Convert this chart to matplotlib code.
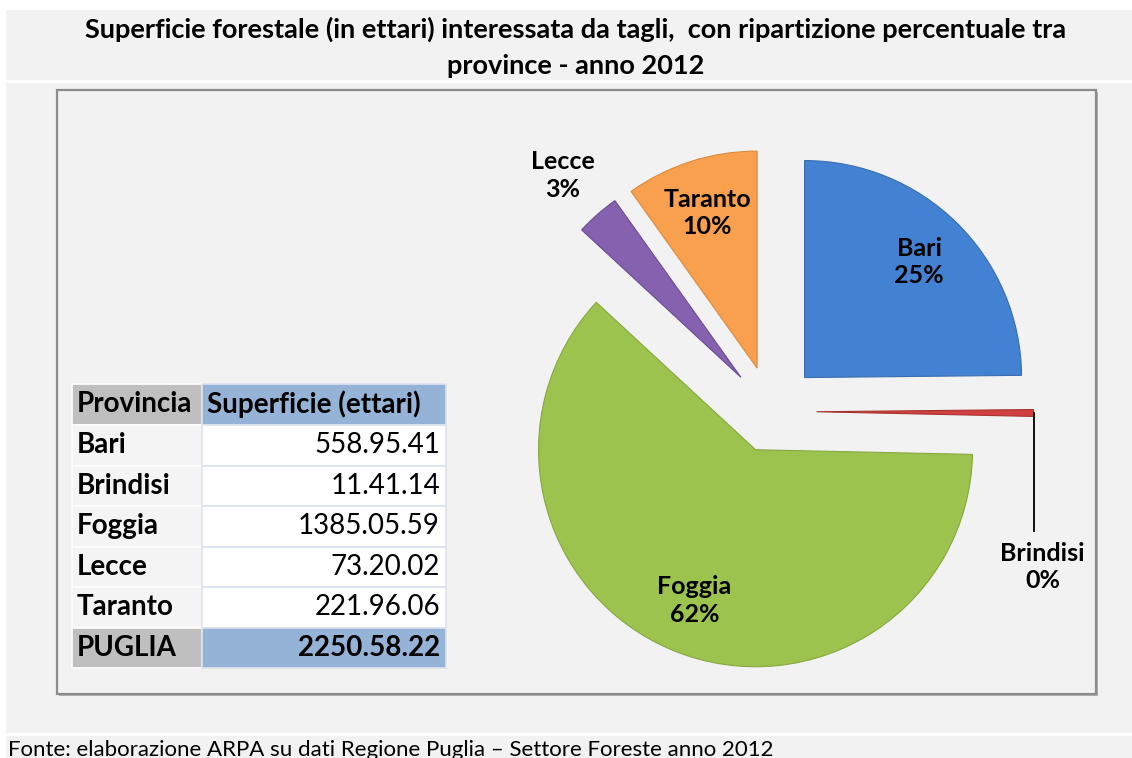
import numpy as np
import matplotlib
matplotlib.use("Agg")
import matplotlib.pyplot as plt
from matplotlib.patches import Rectangle

plt.rcParams['font.family'] = ['Lato', 'DejaVu Sans']

# === DATI ===
province = ["Bari", "Brindisi", "Foggia", "Lecce", "Taranto"]
superficie = [558.9541, 11.4114, 1385.0559, 73.2002, 221.9606]
superficie_txt = ["558.95.41", "11.41.14", "1385.05.59", "73.20.02", "221.96.06"]
percentuali_txt = ["25%", "0%", "62%", "3%", "10%"]
totale_nome = "PUGLIA"
totale_txt = "2250.58.22"
colori = ["#4382d2", "#d0403e", "#9dc34f", "#8561b0", "#f9a04f"]
bordi = ["#3a6cae", "#a83330", "#86a83f", "#6b4b93", "#d98a3f"]
explode = [0.22, 0.21, 0.19, 0.21, 0.21]

titolo = ("Superficie forestale (in ettari) interessata da tagli,  con ripartizione percentuale tra\n"
          "province - anno 2012")
fonte = "Fonte: elaborazione ARPA su dati Regione Puglia \u2013 Settore Foreste anno 2012"

W, H = 1132, 758
fig = plt.figure(figsize=(W / 100, H / 100), dpi=100)
fig.patch.set_facecolor("white")

# sfondo in coordinate pixel
bg = fig.add_axes([0, 0, 1, 1])
bg.set_xlim(0, W)
bg.set_ylim(H, 0)
bg.axis("off")

GRIGIO = "#f2f2f2"
bg.add_patch(Rectangle((6, 10), W - 6, 70, fc=GRIGIO, ec="none"))
bg.add_patch(Rectangle((6, 83), W - 6, 650, fc=GRIGIO, ec="none"))
bg.add_patch(Rectangle((6, 736), W - 6, 30, fc=GRIGIO, ec="none"))
# riquadro del grafico con ombra
bg.add_patch(Rectangle((59, 92), 1039, 604, fc="#b0b0b0", ec="none"))
bg.add_patch(Rectangle((57, 90), 1039, 604, fc=GRIGIO, ec="#8c8c8c", lw=1.6))

bg.text(576, 47, titolo, ha="center", va="center", fontsize=19.5, fontweight="bold",
        linespacing=1.6, color="black")
bg.text(8, 740, fonte, ha="left", va="top", fontsize=16, color="black")

# === TABELLA ===
x0, x1, x2 = 72, 202, 446
y_top, h_head, h_row = 384, 41, 40.5
FS_TAB = 20
righe = list(zip(province, superficie_txt)) + [(totale_nome, totale_txt)]

def cella(y, h, c1, c2):
    bg.add_patch(Rectangle((x0, y), x1 - x0, h, fc=c1, ec="white", lw=1.2))
    bg.add_patch(Rectangle((x1, y), x2 - x1, h, fc=c2, ec="#dde3ec", lw=1.2))

cella(y_top, h_head, "#bfbfbf", "#95b3d7")
bg.text(x0 + 5, y_top + h_head / 2, "Provincia", ha="left", va="center",
        fontsize=FS_TAB, fontweight="bold")
bg.text(x1 + 5, y_top + h_head / 2, "Superficie (ettari)", ha="left", va="center",
        fontsize=FS_TAB, fontweight="bold")

for i, (nome, val) in enumerate(righe):
    y = y_top + h_head + i * h_row
    totale = (i == len(righe) - 1)
    if totale:
        cella(y, h_row, "#bfbfbf", "#95b3d7")
    else:
        cella(y, h_row, "#f4f4f4", "white")
    bg.text(x0 + 5, y + h_row / 2, nome, ha="left", va="center",
            fontsize=FS_TAB, fontweight="bold")
    bg.text(x2 - 6, y + h_row / 2, val, ha="right", va="center",
            fontsize=FS_TAB, fontweight="bold" if totale else "normal")

# === TORTA ===
cx, cy, R, half = 771, 411.5, 217, 300
ax = fig.add_axes([(cx - half) / W, (H - cy - half) / H, 2 * half / W, 2 * half / H])
wedges, _ = ax.pie(superficie, explode=explode, colors=colori, startangle=90,
                   counterclock=False, radius=1,
                   wedgeprops=dict(linewidth=0.8))
for w, ec in zip(wedges, bordi):
    w.set_edgecolor(ec)
lim = half / R
ax.set_xlim(-lim, lim)
ax.set_ylim(-lim, lim)
ax.set_aspect("auto")
ax.axis("off")
ax.patch.set_alpha(0)

FS_PIE = 18
for w, nome, pct in zip(wedges, province, percentuali_txt):
    mid = np.deg2rad((w.theta1 + w.theta2) / 2)
    c = np.array(w.center)
    d = np.array([np.cos(mid), np.sin(mid)])
    lab = f"{nome}\n{pct}"
    if nome == "Lecce":
        p = c + 1.24 * d
        ax.text(p[0], p[1], lab, ha="center", va="center", fontsize=FS_PIE,
                fontweight="bold", linespacing=1.25)
    elif nome == "Brindisi":
        tip = c + d
        fine = tip + np.array([0, -118 / R])
        ax.plot([tip[0], fine[0]], [tip[1], fine[1]], color="black", lw=1.3)
        p = tip + np.array([9 / R, -154 / R])
        ax.text(p[0], p[1], lab, ha="center", va="center", fontsize=FS_PIE,
                fontweight="bold", linespacing=1.25, clip_on=False)
    else:
        p = c + 0.75 * d
        ax.text(p[0], p[1], lab, ha="center", va="center", fontsize=FS_PIE,
                fontweight="bold", linespacing=1.25)

fig.savefig("out.png", dpi=100)
